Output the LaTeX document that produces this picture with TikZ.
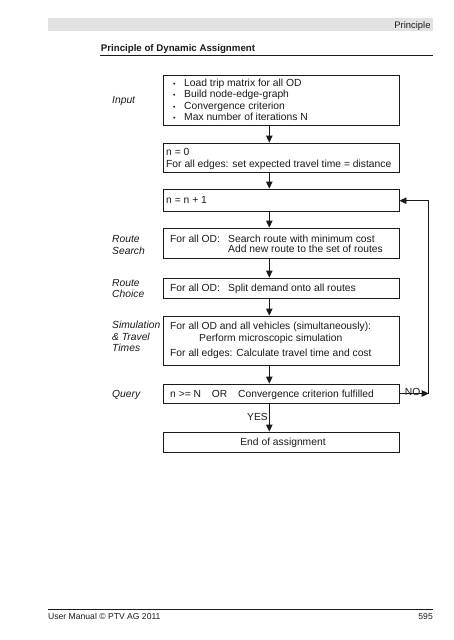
\documentclass[tikz,border=0pt]{standalone}
\usepackage{fontspec}
\setmainfont{Liberation Sans}
\usetikzlibrary{arrows.meta}
\definecolor{barg}{HTML}{E2E2E2}
\definecolor{ink}{HTML}{1A1A1A}
\begin{document}
\begin{tikzpicture}[x=1pt,y=-1pt,
  box/.style={draw=ink,line width=0.9pt,rectangle,inner sep=0pt,minimum width=236pt},
  txt/.style={anchor=base west,inner sep=0pt,text=ink,font=\fontsize{10.3}{11.5}\selectfont},
  ctxt/.style={anchor=base,inner sep=0pt,text=ink,font=\fontsize{10.3}{11.5}\selectfont},
  lbl/.style={anchor=base west,inner sep=0pt,text=ink,font=\fontsize{10.3}{11.5}\selectfont\itshape},
  arr/.style={draw=ink,line width=0.9pt,-{Triangle[length=7pt,width=6.5pt]}},
  ln/.style={draw=ink,line width=0.9pt}]
\useasboundingbox (0,0) rectangle (453,640);
\fill[white] (0,0) rectangle (453,640);
% header
\fill[barg] (48,18.3) rectangle (433,30.7);
\node[anchor=base east,inner sep=0pt,text=ink,font=\fontsize{9.4}{10}\selectfont] (hdr) at (430.7,28.3) {Principle};
\node[anchor=base west,inner sep=0pt,text=ink,font=\fontsize{9.7}{11}\selectfont\bfseries] (title) at (100.7,51.5) {Principle of Dynamic Assignment};
\coordinate (tl1) at (100,55);
\coordinate (tl2) at (433,55);
\draw[ink,line width=0.8pt] (tl1) -- (tl2);
% boxes
\node[box,minimum height=50pt] (input) at (281,100) {};
\node[box,minimum height=29pt] (init) at (281,157.5) {};
\node[box,minimum height=22pt] (inc) at (281,200) {};
\node[box,minimum height=30pt] (search) at (281,243) {};
\node[box,minimum height=20pt] (choice) at (281,288) {};
\node[box,minimum height=49pt] (sim) at (281,340.5) {};
\node[box,minimum height=19pt] (query) at (281,393.5) {};
\node[box,minimum height=20pt] (end) at (281,442) {};
% texts
\foreach \yy/\tt [count=\i] in {86.3/Load trip matrix for all OD,97.9/Build node-edge-graph,109.6/Convergence criterion,120.9/Max number of iterations N}{
  \node[txt] (b\i) at (173,\yy) {\fontsize{7}{7}\selectfont •};
  \node[txt] (t\i) at (184,\yy) {\tt};
}
\node[txt] (i1) at (166,155.6) {n = 0};
\node[txt] (i2) at (166,167.6) {For all edges: set expected travel time = distance};
\node[txt] (n1) at (166,203.6) {n = n + 1};
\node[txt] (s1) at (170,242.6) {For all OD:};
\node[txt] (s2) at (228,242.6) {Search route with minimum cost};
\node[txt] (s3) at (228,252.6) {Add new route to the set of routes};
\node[txt] (c1) at (170,291.6) {For all OD:};
\node[txt] (c2) at (228,291.6) {Split demand onto all routes};
\node[txt] (m1) at (170,329.6) {For all OD and all vehicles (simultaneously):};
\node[txt] (m2) at (199,341.6) {Perform microscopic simulation};
\node[txt] (m3) at (170,356.6) {For all edges: Calculate travel time and cost};
\node[txt] (q1) at (170,397.4) {n >= N};
\node[txt] (q2) at (211.7,397.4) {OR};
\node[txt] (q3) at (238,397.4) {Convergence criterion fulfilled};
\node[ctxt] (e1) at (283,445.6) {End of assignment};
% labels
\node[lbl] (lin) at (112,103.6) {Input};
\node[lbl] (lrs1) at (112,242.6) {Route};
\node[lbl] (lrs2) at (112,254.6) {Search};
\node[lbl] (lrc1) at (112,286.6) {Route};
\node[lbl] (lrc2) at (112,297.6) {Choice};
\node[lbl] (ls1) at (112,328.6) {Simulation};
\node[lbl] (ls2) at (112,340.3) {\& Travel};
\node[lbl] (ls3) at (112,351.6) {Times};
\node[lbl] (lq) at (112,397.4) {Query};
% arrows
\coordinate (ax) at (269.3,0);
\draw[arr] (input.south -| ax) -- (init.north -| ax);
\draw[arr] (init.south -| ax) -- (inc.north -| ax);
\draw[arr] (inc.south -| ax) -- (search.north -| ax);
\draw[arr] (search.south -| ax) -- (choice.north -| ax);
\draw[arr] (choice.south -| ax) -- (sim.north -| ax);
\draw[arr] (sim.south -| ax) -- (query.north -| ax);
\draw[arr] (query.south -| ax) -- node[anchor=base east,inner sep=0pt,pos=0.5,xshift=-1pt,yshift=-3pt,text=ink,font=\fontsize{10.3}{11.5}\selectfont] (yes) {YES} (end.north -| ax);
% NO loop
\coordinate (lpx) at (428.7,0);
\coordinate (lpb) at (428.7,393.5);
\coordinate (lpt) at (428.7,200.7);
\draw[arr] (query.east) -- node[anchor=base,inner sep=0pt,pos=0.45,yshift=-1.5pt,text=ink,font=\fontsize{10.3}{11.5}\selectfont] (no) {NO} (lpb);
\draw[ln] (lpb) -- (lpt);
\draw[arr] (lpt) -- (lpt -| inc.east);
% footer
\coordinate (f1) at (48,609);
\coordinate (f2) at (433,609);
\draw[ink,line width=0.8pt] (f1) -- (f2);
\node[anchor=base west,inner sep=0pt,text=ink,font=\fontsize{8.6}{10}\selectfont] (foot) at (48,619.5) {User Manual © PTV AG 2011};
\node[anchor=base east,inner sep=0pt,text=ink,font=\fontsize{8.6}{10}\selectfont] (page) at (433,619.5) {595};
\end{tikzpicture}
\end{document}
